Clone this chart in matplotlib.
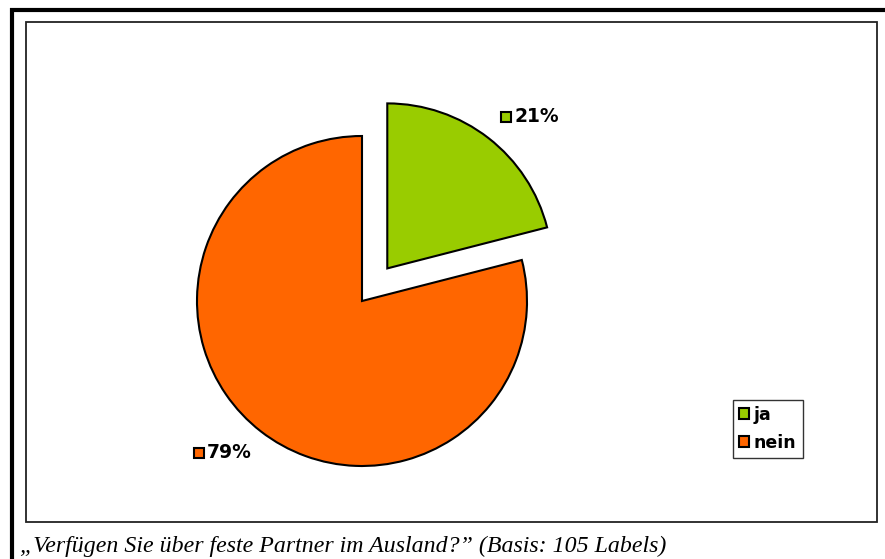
import numpy as np
import matplotlib.pyplot as plt
from matplotlib.patches import Rectangle

# answers and their shares (percent)
labels = ['ja', 'nein']
shares = [21, 79]
colors = ['#99CC00', '#FF6600']
caption = '\u201eVerf\u00fcgen Sie \u00fcber feste Partner im Ausland?\u201d (Basis: 105 Labels)'

W, H = 885, 559
R = 165
fig = plt.figure(figsize=(W / 100, H / 100), dpi=100)
ax = fig.add_axes([0, 0, 1, 1])

# pie, clockwise from 12 o'clock, "ja" pulled out (explode is in data units here)
wedges, _ = ax.pie(shares, colors=colors, startangle=90, counterclock=False,
                   explode=[0.25 * R, 0], center=(362, H - 301), radius=R, frame=True,
                   wedgeprops=dict(edgecolor='black', linewidth=1.5))
ax.set_xlim(0, W)
ax.set_ylim(0, H)
ax.set_aspect('equal')
ax.axis('off')

# frames
ax.plot([10, W], [H - 9.5, H - 9.5], color='black', lw=3, solid_capstyle='butt')
ax.plot([12, 12], [0, H - 8], color='black', lw=3, solid_capstyle='butt')
ax.add_patch(Rectangle((26, H - 522), 851, 500, fill=False, edgecolor='#222222', lw=1.3))

# data labels
lab_pos = [(506, H - 117), (199, H - 453)]
for (x, y), v, c in zip(lab_pos, shares, colors):
    ax.plot(x, y, marker='s', ms=7, mfc=c, mec='black', mew=1.5)
    ax.text(x + 8, y, f'{v}%', fontsize=13.5, fontweight='bold', family='DejaVu Sans',
            va='center', ha='left')

# legend
handles = [Rectangle((0, 0), 1, 1, facecolor=c, edgecolor='black', lw=1.5) for c in colors]
leg = ax.legend(handles, labels, loc='upper left', bbox_to_anchor=(733 / W, 1 - 400 / H),
                frameon=True, fancybox=False, edgecolor='#333333', framealpha=1,
                handlelength=0.6, handleheight=0.6, handletextpad=0.25, borderpad=0.35,
                labelspacing=0.55, borderaxespad=0,
                prop=dict(family='DejaVu Sans', weight='bold', size=12.5))
leg.get_frame().set_linewidth(1.0)

# caption
ax.text(20, H - 546, caption, fontsize=17.2, style='italic', family='Liberation Serif',
        va='center', ha='left')

fig.savefig('out.png', dpi=100)
